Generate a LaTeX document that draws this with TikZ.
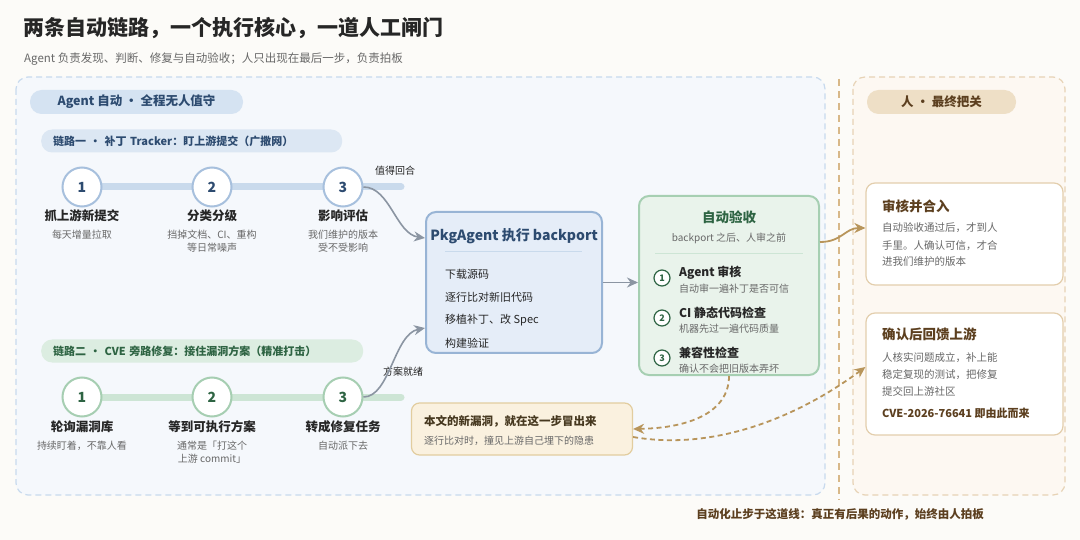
\documentclass[tikz,border=0pt]{standalone}
\usepackage{fontspec}
\setmainfont{Noto Sans CJK SC}
\usetikzlibrary{positioning,arrows.meta}
\definecolor{paper}{HTML}{FCFBF8}
\definecolor{inkdark}{HTML}{262626}
\definecolor{inkgray}{HTML}{686868}
\definecolor{autofill}{HTML}{F5F8FC}
\definecolor{autoline}{HTML}{C8DAEE}
\definecolor{humanfill}{HTML}{FDF8F2}
\definecolor{humanline}{HTML}{E7D3B6}
\definecolor{gateline}{HTML}{D8B888}
\definecolor{bluepill}{HTML}{D5E3F2}
\definecolor{bluetrack}{HTML}{DCE7F3}
\definecolor{bluetext}{HTML}{2D4B70}
\definecolor{bluering}{HTML}{A7C0DD}
\definecolor{bluerail}{HTML}{C9DAEC}
\definecolor{greentrack}{HTML}{DCEDE1}
\definecolor{greentext}{HTML}{2E6443}
\definecolor{greenring}{HTML}{A6CEB2}
\definecolor{greenrail}{HTML}{CDE5D5}
\definecolor{flowgray}{HTML}{8B95A2}
\definecolor{corefill}{HTML}{E5EDF8}
\definecolor{coreline}{HTML}{98B4D5}
\definecolor{checkfill}{HTML}{E9F3EB}
\definecolor{checkline}{HTML}{A6CFB2}
\definecolor{goldarrow}{HTML}{B8955B}
\definecolor{humanpill}{HTML}{EEDFC6}
\definecolor{humantext}{HTML}{5C3F1F}
\definecolor{cardline}{HTML}{E3CEAD}
\definecolor{notefill}{HTML}{FAF1DF}
\definecolor{noteline}{HTML}{E2CD9F}
\definecolor{notetext}{HTML}{46381F}
\tikzset{
  panel/.style={rounded corners=12pt,line width=1.2pt,dash pattern=on 6pt off 4pt},
  pill/.style={rounded corners=11.5pt,minimum height=24pt,inner sep=0pt,font=\fontsize{12.5}{15}\selectfont\bfseries},
  trackpill/.style={rounded corners=11pt,minimum height=23pt,inner xsep=12pt,inner ysep=0pt,anchor=west,align=left,font=\fontsize{11}{13}\selectfont\bfseries},
  rail/.style={line width=7pt,line cap=round},
  ring/.style={circle,fill=white,line width=2pt,minimum size=39pt,inner sep=0pt,font=\fontsize{14}{16}\selectfont\bfseries},
  steptitle/.style={text=inkdark,inner sep=0pt,font=\fontsize{12.5}{15}\selectfont\bfseries},
  stepnote/.style={text=inkgray,inner sep=0pt,anchor=north,align=center,font=\fontsize{10}{13}\selectfont},
  flowtag/.style={text=inkdark,inner sep=0pt,font=\fontsize{10}{12}\selectfont},
  flow/.style={flowgray,line width=1.6pt,-{Stealth[length=11pt,width=10pt]}},
  goldflow/.style={goldarrow,line width=1.8pt,-{Stealth[length=11pt,width=10pt]}},
  golddash/.style={goldflow,dash pattern=on 5pt off 3.5pt},
  corebox/.style={fill=corefill,draw=coreline,line width=2pt,rounded corners=10pt,minimum width=176pt,minimum height=141pt},
  coreitem/.style={text=inkdark,anchor=west,inner sep=0pt,font=\fontsize{11}{13}\selectfont},
  checkbox/.style={fill=checkfill,draw=checkline,line width=2pt,rounded corners=10pt,minimum width=180pt,minimum height=179pt},
  numdot/.style={circle,fill=white,draw=greentext,line width=1.2pt,minimum size=16pt,inner sep=0pt,text=greentext,font=\fontsize{9}{10}\selectfont\bfseries},
  checkitem/.style={text=inkdark,anchor=west,inner sep=0pt,font=\fontsize{12}{14}\selectfont\bfseries},
  checknote/.style={text=inkgray,anchor=west,inner sep=0pt,font=\fontsize{10}{12}\selectfont},
  card/.style={fill=white,draw=cardline,line width=1.2pt,rounded corners=9pt,minimum width=197pt},
  cardtitle/.style={text=humantext,anchor=west,inner sep=0pt,font=\fontsize{13.5}{16}\selectfont\bfseries},
  cardnote/.style={text=inkgray,anchor=west,inner sep=0pt,align=left,font=\fontsize{10.5}{17}\selectfont},
  notebox/.style={fill=notefill,draw=noteline,line width=1.2pt,rounded corners=8pt,minimum width=221pt,minimum height=52pt}
}
\begin{document}
\begin{tikzpicture}[x=1pt,y=-1pt]
\useasboundingbox (0,0) rectangle (1080,540);
\fill[paper] (0,0) rectangle (1080,540);
\node[anchor=west,inner sep=0pt,text=inkdark,font=\fontsize{21}{24}\selectfont\bfseries] (title) at (23,28) {两条自动链路，一个执行核心，一道人工闸门};
\node[anchor=west,inner sep=0pt,text=inkgray,font=\fontsize{11.5}{14}\selectfont] (subtitle) at (24,59) {Agent 负责发现、判断、修复与自动验收；人只出现在最后一步，负责拍板};

\draw[panel,draw=autoline,fill=autofill] (16,77) rectangle (825,495);
\draw[panel,draw=humanline,fill=humanfill] (853,77) rectangle (1065,495);
\draw[gateline,line width=2pt,dash pattern=on 7pt off 5pt] (839,79) -- (839,500);

\node[pill,fill=bluepill,text=bluetext,minimum width=213pt] (autotag) at (136.5,102) {Agent 自动 · 全程无人值守};

\node[trackpill,fill=bluetrack,text=bluetext,text width=277pt] (track1) at (41,141) {链路一 · 补丁 Tracker：盯上游提交（广撒网）};
\coordinate (r1a) at (82,187); \coordinate (r1b) at (401,187);
\draw[rail,bluerail] (r1a) -- (r1b);
\foreach \x/\n/\ttl/\dsc in {82/1/抓上游新提交/每天增量拉取,212/2/分类分级/{挡掉文档、CI、重构\\等日常噪声},343/3/影响评估/{我们维护的版本\\受不受影响}}{
  \node[ring,draw=bluering,text=bluetext] (t\n) at (\x,187) {\n};
  \node[steptitle] (t\n-title) at (\x,216) {\ttl};
  \node[stepnote] (t\n-note) at (\x,230) {\dsc};
}
\node[flowtag] (worth) at (395,171) {值得回合};

\node[trackpill,fill=greentrack,text=greentext,text width=298pt] (track2) at (41,351) {链路二 · CVE 旁路修复：接住漏洞方案（精准打击）};
\coordinate (r2a) at (82,397); \coordinate (r2b) at (401,397);
\draw[rail,greenrail] (r2a) -- (r2b);
\foreach \x/\n/\ttl/\dsc in {82/1/轮询漏洞库/持续盯着，不靠人看,212/2/等到可执行方案/{通常是「打这个\\上游 commit」},343/3/转成修复任务/自动派下去}{
  \node[ring,draw=greenring,text=greentext] (v\n) at (\x,397) {\n};
  \node[steptitle] (v\n-title) at (\x,427) {\ttl};
  \node[stepnote] (v\n-note) at (\x,441) {\dsc};
}
\node[flowtag] (ready) at (403,372) {方案就绪};

\node[corebox] (core) at (514,282.5) {};
\node[inner sep=0pt,text=bluetext,font=\fontsize{14}{16}\selectfont\bfseries] (coretitle) at (514,236) {PkgAgent 执行 backport};
\draw[bluerail,line width=1pt] (445,252) -- (582,252);
\foreach \y/\txt in {274/下载源码,297/逐行比对新旧代码,320/移植补丁、改 Spec,343/构建验证}
  \node[coreitem] at (445,\y) {\txt};

\draw[flow] (t3.east) .. controls (390,187) and (396,234) .. ([yshift=44.5pt]core.west);
\draw[flow] (v3.east) .. controls (390,397) and (394,334) .. ([yshift=-45.5pt]core.west);

\node[checkbox] (check) at (729,285.5) {};
\node[inner sep=0pt,text=greentext,font=\fontsize{13.5}{16}\selectfont\bfseries] (checktitle) at (729,217) {自动验收};
\node[inner sep=0pt,text=inkgray,font=\fontsize{10}{12}\selectfont] (checksub) at (729,238) {backport 之后、人审之前};
\draw[greenrail,line width=1pt] (655,254) -- (803,254);
\foreach \n/\y/\ttl/\dsc in {1/273/Agent 审核/自动审一遍补丁是否可信,2/313/CI 静态代码检查/机器先过一遍代码质量,3/353/兼容性检查/确认不会把旧版本弄坏}{
  \node[numdot] (c\n) at (662,\y+5) {\n};
  \node[checkitem] (c\n-title) at (679,\y) {\ttl};
  \node[checknote] (c\n-note) at (679,\y+16) {\dsc};
}
\draw[flow] (core.east) -- (core.east -| check.west);

\node[pill,fill=humanpill,text=humantext,minimum width=149pt] (humantag) at (941.5,102) {人 · 最终把关};

\node[card,minimum height=102pt] (merge) at (964.5,234) {};
\node[cardtitle] (merge-title) at (882,206) {审核并合入};
\node[cardnote] (merge-note) at (882,245) {自动验收通过后，才到人\\手里。人确认可信，才合\\进我们维护的版本};

\node[card,minimum height=122pt] (report) at (964.5,374) {};
\node[cardtitle] (report-title) at (882,334) {确认后回馈上游};
\node[cardnote] (report-note) at (882,374) {人核实问题成立，补上能\\稳定复现的测试，把修复\\提交回上游社区};
\node[cardtitle,font=\fontsize{11}{13}\selectfont\bfseries] (cve) at (882,413) {CVE-2026-76641 即由此而来};

\draw[goldflow] ([yshift=43.5pt]check.east) .. controls (842,242) and (845,228) .. ([yshift=6pt]merge.west);

\node[notebox] (note) at (522,429) {};
\node[anchor=west,inner sep=0pt,text=notetext,font=\fontsize{11.5}{14}\selectfont\bfseries] (note-title) at (424,421) {本文的新漏洞，就在这一步冒出来};
\node[anchor=west,inner sep=0pt,text=inkgray,font=\fontsize{10}{12}\selectfont] (note-sub) at (424,441) {逐行比对时，撞见上游自己埋下的隐患};

\draw[golddash] (check.south) .. controls (729,412) and (690,428) .. (note.east);
\draw[golddash] ([yshift=-8pt]note.east) .. controls (720,452) and (805,412) .. ([yshift=7pt]report.west);

\node[inner sep=0pt,text=humantext,font=\fontsize{11.5}{14}\selectfont\bfseries] (motto) at (840,514) {自动化止步于这道线：真正有后果的动作，始终由人拍板};
\end{tikzpicture}
\end{document}
